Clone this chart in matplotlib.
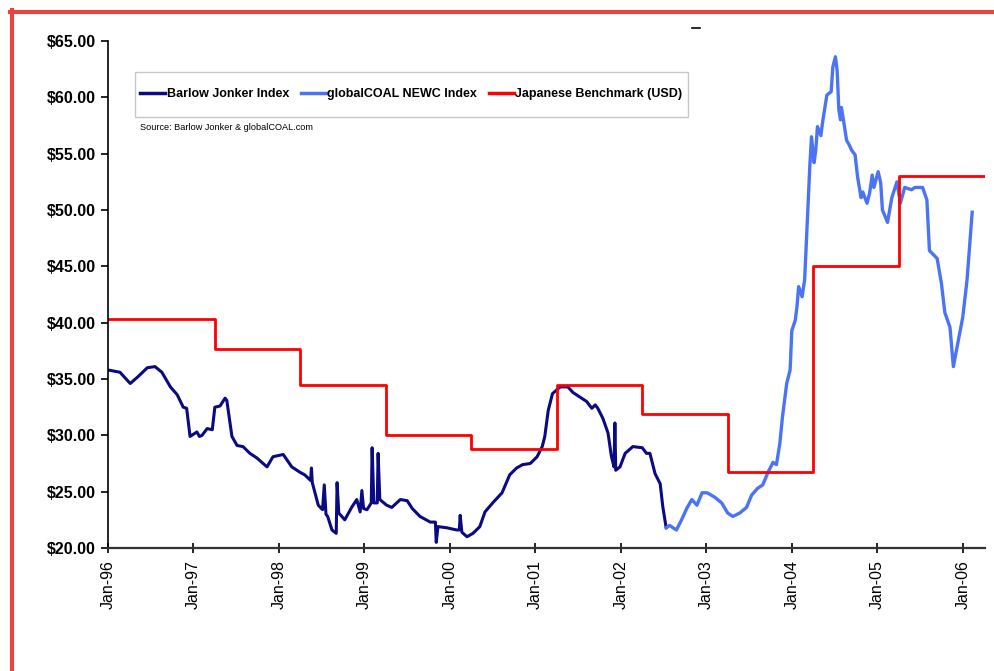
import matplotlib
matplotlib.use("Agg")
import matplotlib.pyplot as plt
from matplotlib.lines import Line2D
from matplotlib.patches import Rectangle

plt.rcParams['font.family'] = ['Liberation Sans', 'DejaVu Sans']

# years after Jan-1996, prices in USD/t
bj_year = [0.00, 0.14, 0.26, 0.35, 0.46, 0.55, 0.63, 0.73, 0.81, 0.88, 0.92, 0.96,
           1.04, 1.07, 1.10, 1.16, 1.22, 1.25, 1.31, 1.37, 1.39, 1.45, 1.51, 1.58,
           1.66, 1.74, 1.86, 1.93, 2.05, 2.15, 2.25, 2.30, 2.37, 2.38, 2.39, 2.46,
           2.51, 2.53, 2.55, 2.57, 2.62, 2.67, 2.68, 2.70, 2.77, 2.85, 2.91, 2.95,
           2.97, 2.99, 3.03, 3.08, 3.09, 3.11, 3.15, 3.16, 3.18, 3.26, 3.32, 3.42,
           3.50, 3.56, 3.65, 3.77, 3.83, 3.84, 3.86, 3.96, 4.08, 4.11, 4.12, 4.14,
           4.20, 4.27, 4.35, 4.41, 4.50, 4.61, 4.70, 4.78, 4.85, 4.94, 5.02, 5.08,
           5.11, 5.15, 5.20, 5.29, 5.38, 5.44, 5.52, 5.60, 5.66, 5.70, 5.73, 5.79,
           5.85, 5.89, 5.92, 5.93, 5.94, 5.99, 6.05, 6.14, 6.25, 6.30, 6.34, 6.40,
           6.46, 6.49, 6.53]
bj_price = [35.8, 35.6, 34.6, 35.2, 36.0, 36.1, 35.6, 34.3, 33.6, 32.5, 32.4, 29.9,
            30.3, 29.9, 30.0, 30.6, 30.5, 32.5, 32.6, 33.3, 33.1, 29.9, 29.1, 29.0,
            28.4, 28.0, 27.2, 28.1, 28.3, 27.2, 26.7, 26.5, 26.0, 27.1, 25.8, 23.8,
            23.4, 25.6, 23.0, 22.8, 21.6, 21.3, 25.8, 23.1, 22.5, 23.6, 24.3, 23.2,
            25.1, 23.5, 23.4, 24.0, 28.9, 24.0, 24.0, 28.4, 24.3, 23.8, 23.6, 24.3,
            24.2, 23.5, 22.8, 22.3, 22.3, 20.5, 21.9, 21.8, 21.6, 21.6, 22.9, 21.4,
            21.0, 21.3, 21.9, 23.2, 24.0, 24.9, 26.5, 27.1, 27.4, 27.5, 28.1, 29.0,
            29.9, 32.2, 33.7, 34.3, 34.3, 33.8, 33.4, 33.0, 32.4, 32.7, 32.4, 31.5,
            30.2, 28.1, 27.2, 31.1, 26.9, 27.2, 28.4, 29.0, 28.9, 28.4, 28.4, 26.6,
            25.7, 23.7, 21.8]

gc_year = [6.53, 6.57, 6.65, 6.71, 6.77, 6.83, 6.89, 6.95, 7.01, 7.10, 7.18, 7.25,
           7.31, 7.39, 7.47, 7.53, 7.60, 7.66, 7.72, 7.78, 7.82, 7.86, 7.89, 7.94,
           7.98, 8.00, 8.04, 8.06, 8.08, 8.12, 8.15, 8.18, 8.21, 8.23, 8.26, 8.28,
           8.30, 8.34, 8.36, 8.41, 8.46, 8.48, 8.51, 8.53, 8.55, 8.57, 8.58, 8.61,
           8.64, 8.67, 8.70, 8.74, 8.77, 8.81, 8.83, 8.88, 8.91, 8.94, 8.96, 9.01,
           9.04, 9.06, 9.12, 9.17, 9.23, 9.27, 9.32, 9.40, 9.44, 9.53, 9.58, 9.61,
           9.70, 9.75, 9.79, 9.85, 9.89, 9.96, 10.00, 10.05, 10.11]
gc_price = [21.8, 22.0, 21.6, 22.5, 23.5, 24.3, 23.8, 24.9, 24.9, 24.5, 24.0, 23.1,
            22.8, 23.1, 23.6, 24.7, 25.3, 25.6, 26.7, 27.6, 27.4, 29.3, 31.6, 34.6,
            35.8, 39.3, 40.2, 41.4, 43.2, 42.3, 43.8, 48.8, 53.8, 56.5, 54.2, 55.3,
            57.4, 56.6, 57.8, 60.2, 60.5, 62.7, 63.6, 62.4, 58.9, 58.0, 59.1, 57.7,
            56.2, 55.8, 55.3, 54.9, 52.9, 51.1, 51.6, 50.6, 51.5, 53.1, 52.0, 53.4,
            52.4, 50.0, 48.9, 51.1, 52.5, 50.6, 52.0, 51.8, 52.0, 52.0, 50.9, 46.4,
            45.7, 43.5, 40.9, 39.6, 36.1, 38.9, 40.5, 43.8, 49.8]

jp_year = [0.00, 1.25, 2.25, 3.25, 4.25, 5.25, 6.25, 7.25, 8.25, 9.25, 10.26]
jp_price = [40.3, 37.7, 34.5, 30.0, 28.75, 34.5, 31.85, 26.75, 45.0, 53.0, 53.0]

start_year = 1996
tick_years = list(range(1996, 2007))
tick_labels = ["Jan-%02d" % (y % 100) for y in tick_years]
y_ticks = list(range(20, 66, 5))

fig = plt.figure(figsize=(9.95, 6.71), dpi=100)
ax = fig.add_axes([108/995, 1-548/671, (985-108)/995, (548-41)/671])

ax.plot([start_year + v for v in bj_year], bj_price, color='#0A0A82', lw=2.2,
        label="Barlow Jonker Index")
ax.plot([start_year + v for v in gc_year], gc_price, color='#4A74F5', lw=2.4,
        label="globalCOAL NEWC Index")
ax.plot([start_year + v for v in jp_year], jp_price, color='#FF0000', lw=2.0,
        drawstyle='steps-post', label="Japanese Benchmark (USD)")

ax.set_xlim(1996, 2006.26)
ax.set_ylim(20, 65)
ax.set_xticks(tick_years)
ax.set_xticklabels(tick_labels, rotation=90, fontsize=11.5)
ax.set_yticks(y_ticks)
ax.set_yticklabels(["$%.2f" % v for v in y_ticks], fontsize=11.5, fontweight='bold')
ax.tick_params(axis='x', direction='inout', length=7, width=1.2, pad=5)
ax.tick_params(axis='y', direction='out', length=5, width=1.2, pad=4)
for s in ['top', 'right']:
    ax.spines[s].set_visible(False)
ax.spines['left'].set_linewidth(1.2)
ax.spines['bottom'].set_linewidth(1.6)
ax.spines['bottom'].set_color('#333333')

# legend box drawn separately so it can be taller than the text
ax.add_patch(Rectangle((135/995, 1-117/671), (688-135)/995, 45/671,
                       transform=fig.transFigure, facecolor='white',
                       edgecolor='#C8C8C8', lw=1.0, clip_on=False, zorder=4))
leg = ax.legend(loc='center left', bbox_to_anchor=(140/995, 1-94/671),
                bbox_transform=fig.transFigure, ncol=3, frameon=False,
                borderaxespad=0, borderpad=0, handlelength=2.0, handletextpad=0.15,
                columnspacing=0.9, prop={'size': 9, 'weight': 'bold'})
leg.set_zorder(6)
for h in leg.get_lines():
    h.set_linewidth(2.5)

fig.text(140/995, 1-127/671, "Source: Barlow Jonker & globalCOAL.com", fontsize=6.6,
         va='center', ha='left')

# red page frame and a stray mark above the plot
fig.add_artist(Line2D([12/995, 12/995], [0, 1-10/671], transform=fig.transFigure,
                      color='#E8453C', lw=3))
fig.add_artist(Line2D([10/995, 1], [1-12/671, 1-12/671], transform=fig.transFigure,
                      color='#E8453C', lw=3))
fig.add_artist(Line2D([692/995, 700/995], [1-28/671, 1-28/671], transform=fig.transFigure,
                      color='black', lw=1.2))

fig.savefig("out.png", dpi=100)
